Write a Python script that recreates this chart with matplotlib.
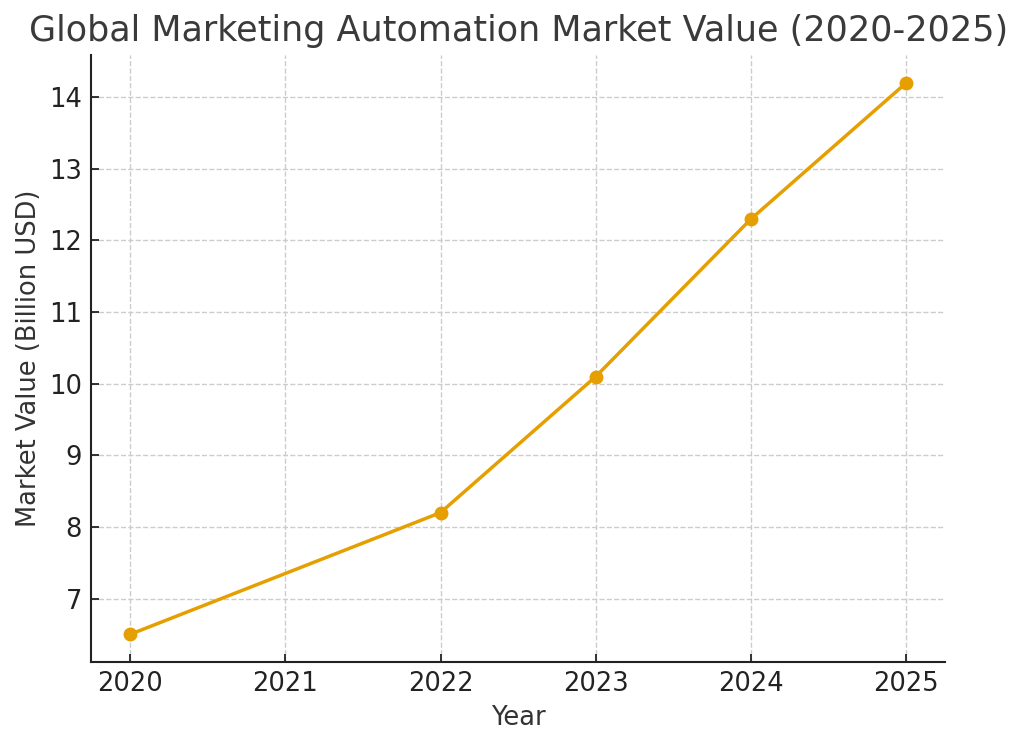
import matplotlib
matplotlib.use("Agg")
import matplotlib.pyplot as plt

years = [2020, 2022, 2023, 2024, 2025]
values = [6.5, 8.2, 10.1, 12.3, 14.2]
xticks = [2020, 2021, 2022, 2023, 2024, 2025]

fig = plt.figure(figsize=(10.24, 7.46), dpi=100)
ax = fig.add_axes([0.089, 0.1126, 0.834, 0.8134])
ax.plot(years, values, color="#E69F00", linewidth=2.5, marker="o", markersize=9, zorder=3)
ax.set_xticks(xticks)
ax.set_xticklabels([str(x) for x in xticks])
ax.grid(True, linestyle="--", color="#cccccc", linewidth=1)
ax.set_axisbelow(True)
for s in ["top", "right"]:
    ax.spines[s].set_visible(False)
for s in ["left", "bottom"]:
    ax.spines[s].set_linewidth(1.5)
    ax.spines[s].set_color("#222222")
ax.tick_params(axis="both", direction="in", labelsize=18.5, length=6, width=1.3,
               colors="#222222", pad=6.5)
ax.set_xlabel("Year", fontsize=18.5, color="#333333", labelpad=6)
ax.set_ylabel("Market Value (Billion USD)", fontsize=18.5, color="#333333", labelpad=5)
ax.set_title("Global Marketing Automation Market Value (2020-2025)", fontsize=25.2, color="#3a3a3a", pad=10)
fig.savefig("out.png", dpi=100)
